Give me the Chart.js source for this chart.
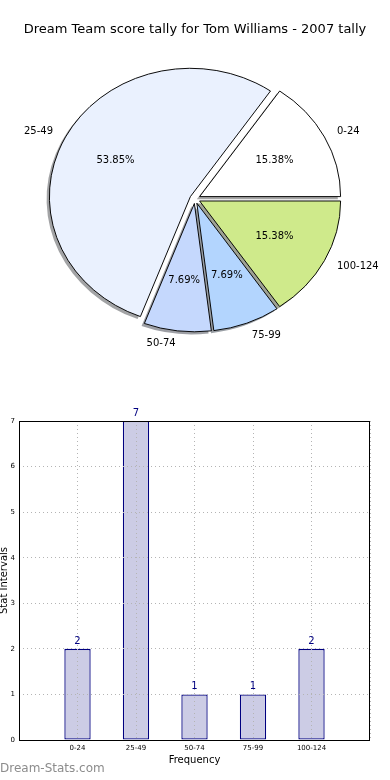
<!DOCTYPE html>
<html>
<head>
<meta charset="utf-8">
<script src="https://cdn.jsdelivr.net/npm/chart.js@4.4.0/dist/chart.umd.min.js"></script>
<style>
    html, body { margin: 0; padding: 0; background: #ffffff; }
    #wrap { position: relative; width: 390px; height: 780px; overflow: hidden; }
    #pie-chart { position: absolute; left: 0; top: 0; }
    #bar-chart { position: absolute; left: 0; top: 390px; }
    #watermark {
        position: absolute; left: 0; top: 761px;
        font: 12px 'DejaVu Sans', sans-serif; color: #8c8c8c;
    }
</style>
</head>
<body>
<div id="wrap">
    <canvas id="pie-chart" width="390" height="360"></canvas>
    <canvas id="bar-chart" width="390" height="390"></canvas>
    <div id="watermark">Dream-Stats.com</div>
</div>
<script>
// chart data
const CHART_TITLE = 'Dream Team score tally for Tom Williams - 2007 tally';
const CATEGORIES = ['0-24', '25-49', '50-74', '75-99', '100-124'];
const TALLY = [2, 7, 1, 1, 2];
const SLICE_COLORS = ['#ffffff', '#eaf1fe', '#c5d8fd', '#b3d5fe', '#cfea8b'];
const Y_MAX = 7;
const X_TITLE = 'Frequency';
const Y_TITLE = 'Stat Intervals';

// look
const FONT = "'DejaVu Sans', sans-serif";
const PIE_RADIUS = 141;      // horizontal radius, px
const PIE_Y_SCALE = 0.91;    // pie is squashed vertically
const EXPLODE_PX = 5.2;
const SHADOW_DX = -2.8;
const SHADOW_DY = 2.8;

// pie goes counter-clockwise from 3 o'clock, Chart.js goes clockwise -> reverse
const pieLabels = CATEGORIES.slice().reverse();
const pieData = TALLY.slice().reverse();
const pieColors = SLICE_COLORS.slice().reverse();
const total = TALLY.reduce((a, b) => a + b, 0);

function shadowColor(hex) {
    const r = parseInt(hex.slice(1, 3), 16) * 0.3;
    const g = parseInt(hex.slice(3, 5), 16) * 0.3;
    const b = parseInt(hex.slice(5, 7), 16) * 0.3;
    return `rgba(${r | 0}, ${g | 0}, ${b | 0}, 0.5)`;
}

// squash + explode + shadow + labels for the pie
const ellipsePiePlugin = {
    id: 'ellipsePie',
    beforeDatasetsDraw(chart) {
        const ctx = chart.ctx;
        const arcs = chart.getDatasetMeta(0).data;
        const cx = arcs[0].x;
        const cy = arcs[0].y;
        chart.$pieCenter = { cx, cy };

        ctx.save();
        ctx.translate(cx, cy);
        ctx.scale(1, PIE_Y_SCALE);
        ctx.translate(-cx, -cy);

        // explode every slice along its middle angle
        arcs.forEach(arc => {
            const mid = (arc.startAngle + arc.endAngle) / 2;
            arc.x = cx + Math.cos(mid) * EXPLODE_PX;
            arc.y = cy + Math.sin(mid) * EXPLODE_PX;
        });

        // shadows under all slices
        arcs.forEach((arc, i) => {
            const sx = arc.x + SHADOW_DX;
            const sy = arc.y + SHADOW_DY;
            ctx.beginPath();
            ctx.moveTo(sx, sy);
            ctx.arc(sx, sy, arc.outerRadius, arc.startAngle, arc.endAngle);
            ctx.closePath();
            ctx.fillStyle = shadowColor(pieColors[i]);
            ctx.fill();
        });
    },
    afterDatasetsDraw(chart) {
        const ctx = chart.ctx;
        ctx.restore();

        const { cx, cy } = chart.$pieCenter;
        const arcs = chart.getDatasetMeta(0).data;

        ctx.save();
        ctx.font = `10px ${FONT}`;
        ctx.fillStyle = '#000000';
        ctx.textBaseline = 'middle';
        arcs.forEach((arc, i) => {
            const mid = (arc.startAngle + arc.endAngle) / 2;
            const c = Math.cos(mid);
            const s = Math.sin(mid);
            const r = arc.outerRadius;

            // category label outside
            const lr = EXPLODE_PX + 1.1 * r;
            ctx.textAlign = c > 0 ? 'left' : 'right';
            ctx.fillText(pieLabels[i], cx + c * lr, cy + s * lr * PIE_Y_SCALE);

            // percentage inside
            const pr = EXPLODE_PX + 0.6 * r;
            ctx.textAlign = 'center';
            const pct = (pieData[i] / total * 100).toFixed(2) + '%';
            ctx.fillText(pct, cx + c * pr, cy + s * pr * PIE_Y_SCALE);

            // put the element back where the library left it
            arc.x = cx;
            arc.y = cy;
        });
        ctx.restore();
    }
};

new Chart(document.getElementById('pie-chart'), {
    type: 'pie',
    data: {
        labels: pieLabels,
        datasets: [{
            data: pieData,
            backgroundColor: pieColors,
            borderColor: '#000000',
            borderWidth: 1,
            borderJoinStyle: 'miter',
            clip: false
        }]
    },
    options: {
        responsive: false,
        animation: false,
        events: [],
        rotation: 90,
        radius: PIE_RADIUS,
        layout: { padding: 0 },
        plugins: {
            legend: { display: false },
            tooltip: { enabled: false },
            title: {
                display: true,
                text: CHART_TITLE,
                color: '#000000',
                font: { family: FONT, size: 13, weight: 'normal' },
                padding: { top: 22, bottom: 0 }
            }
        }
    },
    plugins: [ellipsePiePlugin]
});

// box around plot + value labels on top of bars
const barDecorPlugin = {
    id: 'barDecor',
    afterDraw(chart) {
        const ctx = chart.ctx;
        const { left, top, right, bottom } = chart.chartArea;
        ctx.save();
        ctx.strokeStyle = '#000000';
        ctx.lineWidth = 1;
        ctx.strokeRect(Math.round(left) + 0.5, Math.round(top) + 0.5,
            Math.round(right - left) - 1, Math.round(bottom - top));

        ctx.font = `10px ${FONT}`;
        ctx.fillStyle = '#000080';
        ctx.textAlign = 'center';
        ctx.textBaseline = 'alphabetic';
        const meta = chart.getDatasetMeta(0);
        meta.data.forEach((bar, i) => {
            const v = chart.data.datasets[0].data[i];
            if (v === null) return;
            ctx.fillText(String(v), bar.x, bar.y - 5);
        });
        ctx.restore();
    }
};

const gridStyle = { color: '#b4b4b4', lineWidth: 1, drawTicks: false, z: 1 };
const borderStyle = { display: false, dash: [1, 3] };

new Chart(document.getElementById('bar-chart'), {
    type: 'bar',
    data: {
        labels: ['', ...CATEGORIES, ''],
        datasets: [{
            data: [null, ...TALLY, null],
            backgroundColor: '#cccce5',
            borderColor: '#000080',
            borderWidth: 1.3,
            borderSkipped: false,
            barPercentage: 0.45,
            categoryPercentage: 1
        }]
    },
    options: {
        responsive: false,
        animation: false,
        events: [],
        layout: { padding: { top: 31, right: 20, bottom: 0, left: 0 } },
        plugins: {
            legend: { display: false },
            tooltip: { enabled: false }
        },
        scales: {
            x: {
                offset: false,
                grid: { ...gridStyle, offset: false },
                border: borderStyle,
                ticks: {
                    color: '#000000',
                    font: { family: FONT, size: 7 },
                    padding: 4,
                    autoSkip: false,
                    maxRotation: 0
                },
                title: {
                    display: true,
                    text: X_TITLE,
                    color: '#000000',
                    font: { family: FONT, size: 10 },
                    padding: { top: 0, bottom: 14 }
                },
                afterFit: scale => { scale.height = 40; }
            },
            y: {
                min: 0,
                max: Y_MAX,
                grid: gridStyle,
                border: borderStyle,
                ticks: {
                    stepSize: 1,
                    color: '#000000',
                    font: { family: FONT, size: 7 },
                    padding: 4
                },
                title: {
                    display: true,
                    text: Y_TITLE,
                    color: '#000000',
                    font: { family: FONT, size: 10, lineHeight: 0.8 },
                    padding: 0
                },
                afterFit: scale => { scale.width = 19; }
            }
        }
    },
    plugins: [barDecorPlugin]
});
</script>
</body>
</html>
